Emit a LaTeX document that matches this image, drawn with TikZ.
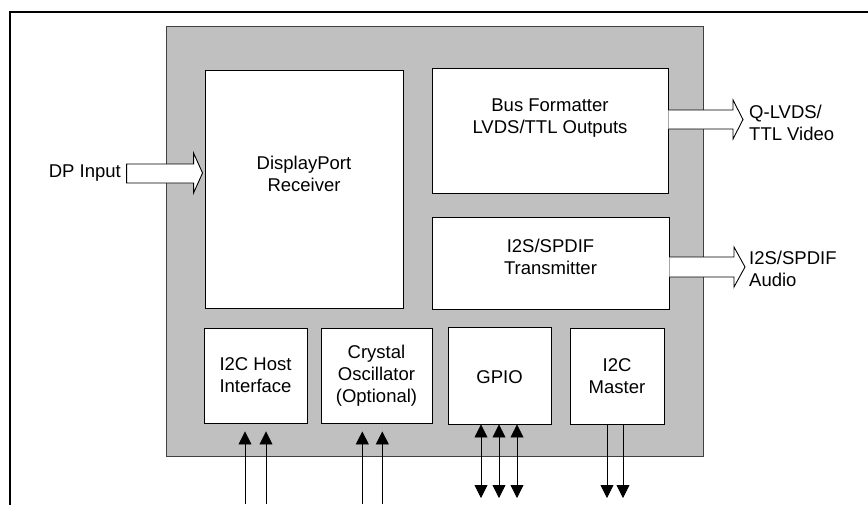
\documentclass[tikz,border=0pt]{standalone}
\usepackage{fontspec}
\setmainfont{Liberation Sans}
\usetikzlibrary{arrows.meta,calc}
\definecolor{chipgray}{HTML}{C0C0C0}
\definecolor{chipedge}{HTML}{404040}
\tikzset{
  blk/.style={draw=black, line width=0.9pt, fill=white, rectangle, inner sep=0pt},
  txt/.style={align=center, inner sep=0pt, font=\fontsize{18.5}{22}\selectfont},
  hollow/.style={draw=black, line width=0.9pt, fill=white, line join=miter},
  sig/.style={draw=black, line width=0.8pt},
  tipa/.tip={Triangle[width=13pt,length=13pt]},
}
\begin{document}
\begin{tikzpicture}[x=1pt,y=-1pt]
\useasboundingbox (0,0) rectangle (868,504);
\clip (0,0) rectangle (868,504);
\fill[white] (0,0) rectangle (868,504);
% outer frame (cut off at right and bottom)
\draw[line width=2.2pt] (10,11.8) rectangle (900,560);
% chip body
\node[draw=chipedge, line width=1pt, fill=chipgray, rectangle, minimum width=537, minimum height=430, inner sep=0pt] (chip) at (434.5,241) {};
% blocks
\node[blk, minimum width=198, minimum height=238] (dpr) at (304,189) {};
\node[txt] (dprt) at (304,174) {DisplayPort\\Receiver};
\node[blk, minimum width=236, minimum height=125] (bus) at (550,130.5) {};
\node[txt] (bust) at (550,118) {Bus Formatter\\LVDS/TTL Outputs};
\node[blk, minimum width=237, minimum height=92] (i2s) at (550.5,263) {};
\node[txt] (i2st) at (550.5,257) {I2S/SPDIF\\Transmitter};
\node[blk, minimum width=103, minimum height=95] (host) at (255.5,375.5) {};
\node[txt] (hostt) at (255.5,375.5) {I2C Host\\Interface};
\node[blk, minimum width=111, minimum height=95] (xtal) at (376.5,375.5) {};
\node[txt] (xtalt) at (376.5,376) {Crystal\\Oscillator\\(Optional)};
\node[blk, minimum width=103, minimum height=97] (gpio) at (499.5,375.5) {};
\node[txt] (gpiot) at (499.5,377) {GPIO};
\node[blk, minimum width=94, minimum height=96] (mstr) at (617,376) {};
\node[txt] (mstrt) at (617,376) {I2C\\Master};
% external labels
\node[txt, anchor=east] (dpin) at (121,173) {DP Input};
\node[txt, anchor=west, align=left] (qlvds) at (749,123) {Q-LVDS/\\TTL Video};
\node[txt, anchor=west, align=left] (aud) at (749,269) {I2S/SPDIF\\Audio};
% hollow arrows
\coordinate (dptip) at ($(dpr.west)+(-2,-16)$);
\draw[hollow] ($(dptip)+(-76,-9)$) -- ++(67,0) -- ++(0,-11) -- (dptip) -- ++(-9,20) -- ++(0,-10) -- ++(-67,0) -- cycle;
\coordinate (vtip) at (743,119.5);
\draw[hollow] ($(vtip -| bus.east)+(0,-9.5)$) -- ($(vtip)+(-10,-9.5)$) -- ++(0,-10) -- (vtip) -- ++(-10,19.5) -- ++(0,-10) -- ($(vtip -| bus.east)+(0,9.5)$);
\coordinate (atip) at (745,267);
\draw[hollow] ($(atip -| i2s.east)+(0,-10)$) -- ($(atip)+(-11,-10)$) -- ++(0,-10) -- (atip) -- ++(-11,20) -- ++(0,-10) -- ($(atip -| i2s.east)+(0,10)$);
% pins
\foreach \x/\n in {245/h1,266/h2} {
  \coordinate (\n) at (\x,504);
  \draw[sig, -tipa] (\n) -- ($(\n |- host.south)+(0,8)$);
}
\foreach \x/\n in {362.3/c1,382.3/c2} {
  \coordinate (\n) at (\x,504);
  \draw[sig, -tipa] (\n) -- ($(\n |- xtal.south)+(0,8)$);
}
\foreach \x/\n in {481/g1,499/g2,517/g3} {
  \coordinate (\n) at (\x,498);
  \draw[sig, tipa-tipa] (\n |- gpio.south) -- (\n);
}
\foreach \x/\n in {607/m1,623/m2} {
  \coordinate (\n) at (\x,498);
  \draw[sig, -tipa] (\n |- mstr.south) -- (\n);
}
\end{tikzpicture}
\end{document}
